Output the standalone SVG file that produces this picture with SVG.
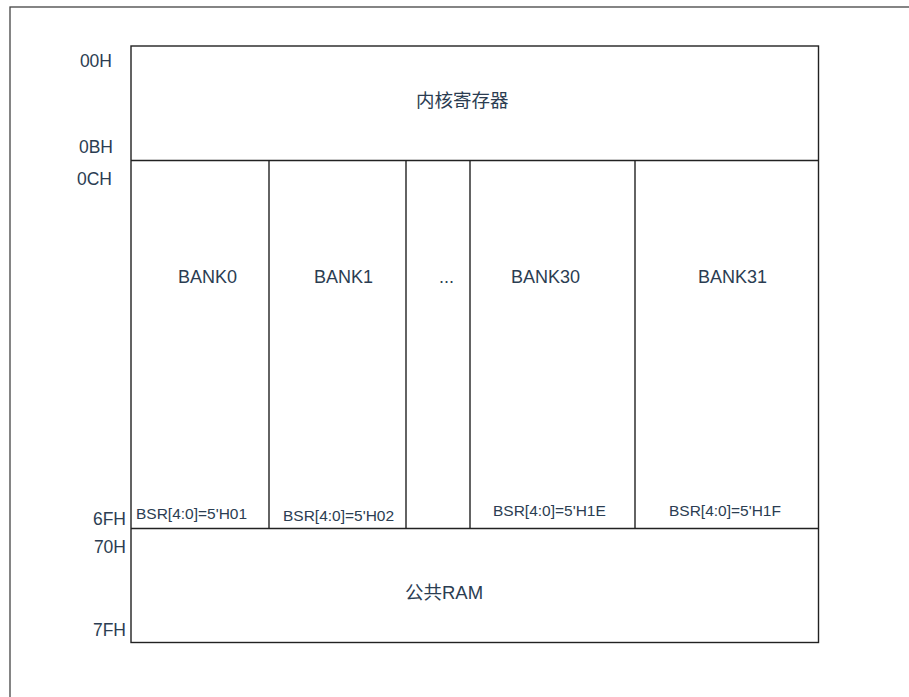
<svg xmlns="http://www.w3.org/2000/svg" width="909" height="697" viewBox="0 0 909 697">
<style>
.t{font-family:"Liberation Sans",Arial,"Noto Sans CJK SC",sans-serif;fill:#2b3d52;}
.addr{font-size:17.5px;text-anchor:end;}
.bank{font-size:18px;}
.bsr{font-size:15.5px;}
.cn{font-size:18.5px;}
.ln{stroke:#222;stroke-width:1.4;fill:none;}
</style>
<rect x="10" y="7" width="910" height="700" fill="#fff" stroke="#444" stroke-width="1.3"/>
<g id="labels">
<text class="t addr" x="112" y="66.5">00H</text>
<text class="t addr" x="113" y="153">0BH</text>
<text class="t addr" x="112" y="185">0CH</text>
<text class="t addr" x="126" y="525">6FH</text>
<text class="t addr" x="126" y="553">70H</text>
<text class="t addr" x="126" y="635.5">7FH</text>
</g>
<g id="connectors">
<rect class="ln" x="131" y="46" width="687.5" height="596.5"/>
<line class="ln" x1="131" y1="160.5" x2="818.5" y2="160.5"/>
<line class="ln" x1="131" y1="528.5" x2="818.5" y2="528.5"/>
<line class="ln" x1="269" y1="160.5" x2="269" y2="528.5"/>
<line class="ln" x1="406" y1="160.5" x2="406" y2="528.5"/>
<line class="ln" x1="470" y1="160.5" x2="470" y2="528.5"/>
<line class="ln" x1="635" y1="160.5" x2="635" y2="528.5"/>
</g>
<g id="core"><text class="t cn" x="416" y="107">内核寄存器</text></g>
<g id="bank0"><text class="t bank" x="178" y="283">BANK0</text><text class="t bsr" x="136" y="519">BSR[4:0]=5'H01</text></g>
<g id="bank1"><text class="t bank" x="314" y="283">BANK1</text><text class="t bsr" x="283" y="521">BSR[4:0]=5'H02</text></g>
<g id="dots"><text class="t bank" x="439" y="283">...</text></g>
<g id="bank30"><text class="t bank" x="511" y="283">BANK30</text><text class="t bsr" x="493" y="516">BSR[4:0]=5'H1E</text></g>
<g id="bank31"><text class="t bank" x="698" y="283">BANK31</text><text class="t bsr" x="669" y="516">BSR[4:0]=5'H1F</text></g>
<g id="common"><text class="t cn" x="405" y="599">公共RAM</text></g>
</svg>
